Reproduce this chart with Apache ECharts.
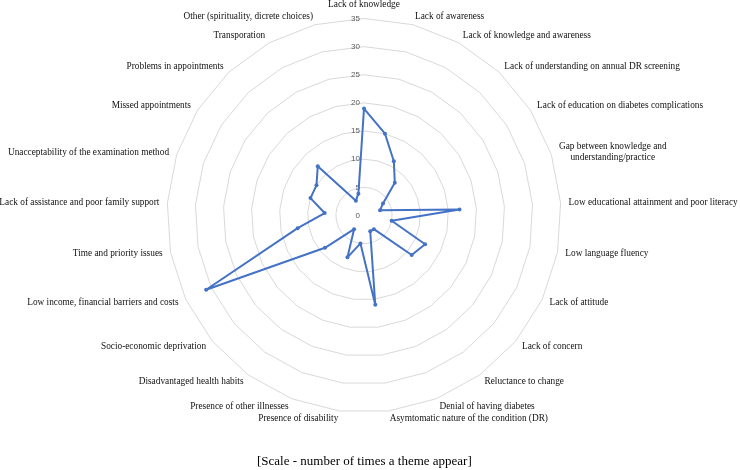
<!DOCTYPE html>
<html>
<head>
<meta charset="utf-8">
<script src="https://cdn.jsdelivr.net/npm/echarts@6/dist/echarts.min.js"></script>
<style>html,body{margin:0;padding:0;background:#fff;}#chart{width:740px;height:470px;}</style>
</head>
<body>
<div id="chart"></div>
<script>
// Themes, listed clockwise starting from the top
var categories = [
  "Lack of knowledge",
  "Lack of awareness",
  "Lack of knowledge and awareness",
  "Lack of understanding on annual DR screening",
  "Lack of education on diabetes complications",
  "Gap between knowledge and\nunderstanding/practice",
  "Low educational attainment and poor literacy",
  "Low language fluency",
  "Lack of attitude",
  "Lack of concern",
  "Reluctance to change",
  "Denial of having diabetes",
  "Asymtomatic nature of the condition (DR)",
  "Presence of disability",
  "Presence of other illnesses",
  "Disadvantaged health habits",
  "Socio-economic deprivation",
  "Low income, financial barriers and costs",
  "Time and priority issues",
  "Lack of assistance and poor family support",
  "Unacceptability of the examination method",
  "Missed appointments",
  "Problems in appointments",
  "Transporation",
  "Other (spirituality, dicrete choices)"
];
var counts = [19, 15, 11, 8, 4, 3, 17, 5, 12, 11, 3, 3, 16, 5, 8, 3, 9, 31, 12, 7, 10, 10, 12, 3, 4];
var scaleMin = 0, scaleMax = 35, scaleStep = 5;
var caption = "[Scale - number of times a theme appear]";

// ECharts radar runs counter-clockwise; reorder so the themes read clockwise
var order = [0];
for (var i = categories.length - 1; i >= 1; i--) order.push(i);
var indicators = order.map(function (k) { return { name: categories[k], min: scaleMin, max: scaleMax }; });
var values = order.map(function (k) { return counts[k]; });

var nameFont = { color: '#111', fontFamily: 'Liberation Serif', fontSize: 9.3, lineHeight: 11 };
var cx = 364, cy = 215.5, R = 197;
var chart = echarts.init(document.getElementById('chart'), null, { renderer: 'canvas' });
chart.setOption({
  animation: false,
  backgroundColor: '#ffffff',
  graphic: [{
    type: 'text', left: 257, top: 455,
    style: { text: caption, font: '13px "Liberation Serif"', fill: '#000' }
  }],
  radar: {
    center: [cx, cy], radius: R, startAngle: 90,
    shape: 'polygon', splitNumber: (scaleMax - scaleMin) / scaleStep,
    indicator: indicators,
    nameGap: 8,
    axisName: Object.assign({
      formatter: function (name) {
        return name.split('\n').map(function (l) { return '{c|' + l + '}'; }).join('\n');
      },
      rich: { c: Object.assign({ align: 'center' }, nameFont) }
    }, nameFont),
    splitLine: { lineStyle: { color: '#D9D9D9', width: 1 } },
    splitArea: { show: false },
    axisLine: { show: false },
    axisTick: { show: false },
    axisLabel: { show: false }
  },
  polar: { center: [cx, cy], radius: R },
  angleAxis: { type: 'value', min: 0, max: 360, show: false, startAngle: 90 },
  radiusAxis: {
    type: 'value', min: scaleMin, max: scaleMax, interval: scaleStep,
    axisLine: { show: false }, axisTick: { show: false }, splitLine: { show: false },
    axisLabel: { color: '#595959', fontFamily: 'Liberation Sans', fontSize: 8, margin: 4 }
  },
  series: [{
    type: 'radar',
    symbol: 'circle', symbolSize: 4,
    lineStyle: { color: '#4472C4', width: 2 },
    itemStyle: { color: '#4472C4' },
    data: [{ value: values, name: 'Themes' }]
  }]
});
</script>
</body>
</html>
